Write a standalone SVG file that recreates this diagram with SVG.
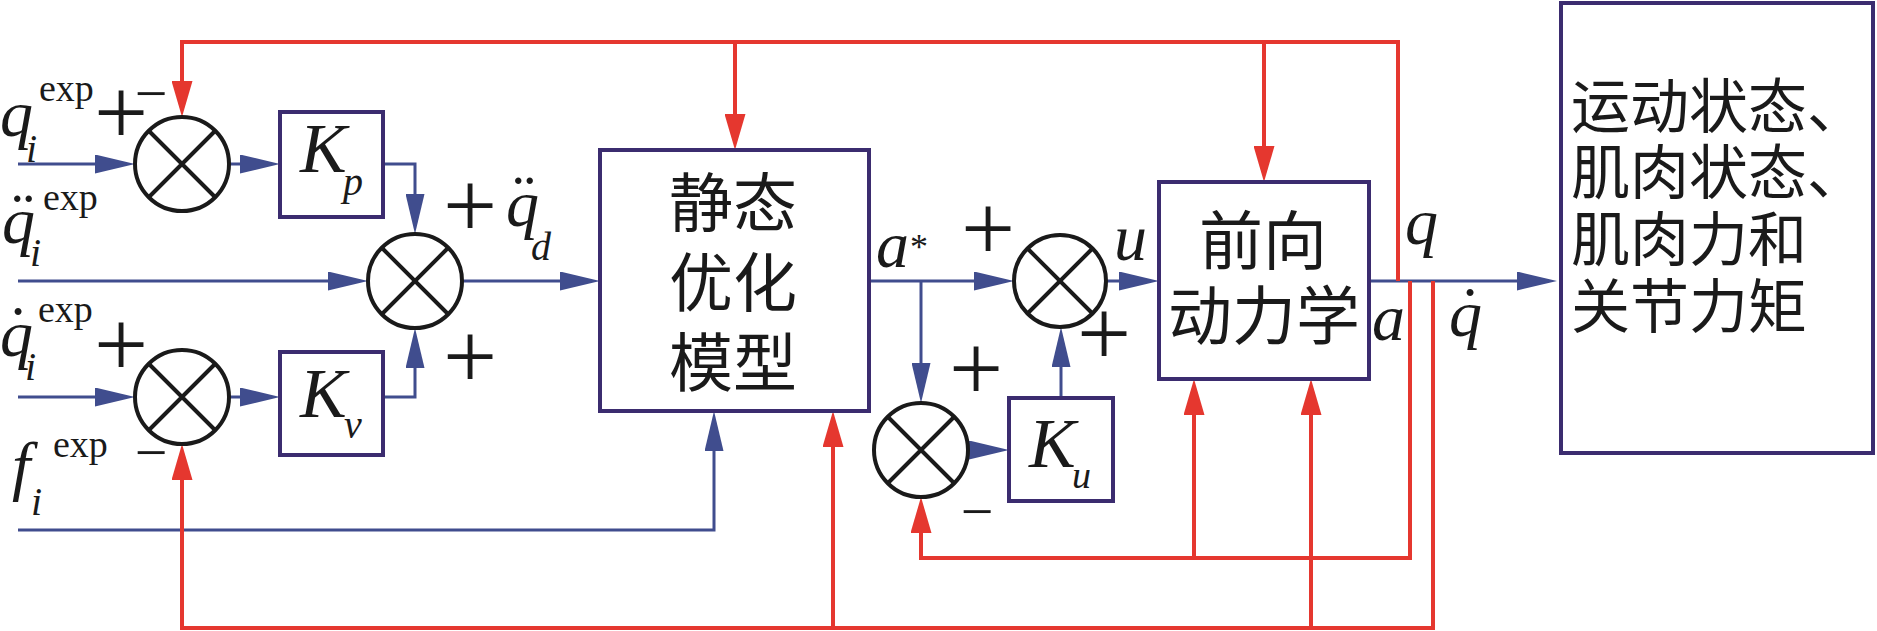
<svg xmlns="http://www.w3.org/2000/svg" width="1877" height="631" viewBox="0 0 1877 631">
<style>
.blk{fill:#fff;stroke:#3b2c6f;stroke-width:4}
.sum{fill:#fff;stroke:#1a1a1a;stroke-width:4}
.x{stroke:#1a1a1a;stroke-width:4}
.b{fill:none;stroke:#404d8e;stroke-width:3}
.r{fill:none;stroke:#e5372f;stroke-width:4}
.it{font-family:"Liberation Serif",serif;font-style:italic;fill:#1a1a1a}
.rm{font-family:"Liberation Serif",serif;fill:#1a1a1a}
.pl{font-family:"Liberation Serif",serif;font-size:96px;fill:#1a1a1a;text-anchor:middle}
.mi{font-family:"Liberation Serif",serif;font-size:58px;fill:#1a1a1a;text-anchor:middle}
.zh{font-family:"Liberation Serif","Noto Sans CJK SC",sans-serif;font-size:64px;fill:#1a1a1a}
.zo{font-family:"Liberation Serif","Noto Sans CJK SC",sans-serif;font-size:59px;fill:#1a1a1a}
.v{font-size:66px}
.s{font-size:40px}
.e{font-size:38px}
</style>
<defs>
<marker id="ab" markerWidth="40" markerHeight="19" refX="32" refY="9.5" orient="auto" markerUnits="userSpaceOnUse"><path d="M0,0 L40,9.5 L0,19 z" fill="#404d8e"/></marker>
<marker id="ar" markerWidth="36" markerHeight="21" refX="28" refY="10.5" orient="auto" markerUnits="userSpaceOnUse"><path d="M0,0 L36,10.5 L0,21 z" fill="#e5372f"/></marker>
</defs>
<g id="connectors">
<path class="b" d="M18,164 H127" marker-end="url(#ab)"/>
<path class="b" d="M229,164 H272" marker-end="url(#ab)"/>
<path class="b" d="M383,164 H415 V226" marker-end="url(#ab)"/>
<path class="b" d="M18,281 H360" marker-end="url(#ab)"/>
<path class="b" d="M18,397 H127" marker-end="url(#ab)"/>
<path class="b" d="M229,397 H272" marker-end="url(#ab)"/>
<path class="b" d="M383,397 H415 V336" marker-end="url(#ab)"/>
<path class="b" d="M18,530 H714 V419" marker-end="url(#ab)"/>
<path class="b" d="M462,281 H592" marker-end="url(#ab)"/>
<path class="b" d="M869,281 H1006" marker-end="url(#ab)"/>
<path class="b" d="M921,281 V395" marker-end="url(#ab)"/>
<path class="b" d="M968,450 H1001" marker-end="url(#ab)"/>
<path class="b" d="M1061,398 V335" marker-end="url(#ab)"/>
<path class="b" d="M1106,281 H1151" marker-end="url(#ab)"/>
<path class="b" d="M1369,281 H1549" marker-end="url(#ab)"/>
<path class="r" d="M1398,281 V42 H182 V109" marker-end="url(#ar)"/>
<path class="r" d="M735,42 V142" marker-end="url(#ar)"/>
<path class="r" d="M1264,42 V174" marker-end="url(#ar)"/>
<path class="r" d="M1410,281 V558 H921 V505" marker-end="url(#ar)"/>
<path class="r" d="M1194,558 V387" marker-end="url(#ar)"/>
<path class="r" d="M1433,281 V628 H182 V452" marker-end="url(#ar)"/>
<path class="r" d="M833,628 V419" marker-end="url(#ar)"/>
<path class="r" d="M1311,628 V387" marker-end="url(#ar)"/>
</g>
<g id="sum1">
<circle class="sum" cx="182" cy="164" r="47"/>
<path class="x" d="M149,131 L215,197 M215,131 L149,197"/>
<text class="pl" x="121" y="144">+</text>
<text class="mi" x="151" y="113">−</text>
</g>
<g id="sum2">
<circle class="sum" cx="415" cy="281" r="47"/>
<path class="x" d="M382,248 L448,314 M448,248 L382,314"/>
<text class="pl" x="470" y="237">+</text>
<text class="pl" x="470" y="388">+</text>
</g>
<g id="sum3">
<circle class="sum" cx="182" cy="397" r="47"/>
<path class="x" d="M149,364 L215,430 M215,364 L149,430"/>
<text class="pl" x="121" y="376">+</text>
<text class="mi" x="151" y="472">−</text>
</g>
<g id="sum4">
<circle class="sum" cx="1060" cy="281" r="46"/>
<path class="x" d="M1027,248 L1093,314 M1093,248 L1027,314"/>
<text class="pl" x="988" y="260">+</text>
<text class="pl" x="1104" y="365">+</text>
</g>
<g id="sum5">
<circle class="sum" cx="921" cy="450" r="47"/>
<path class="x" d="M888,417 L954,483 M954,417 L888,483"/>
<text class="pl" x="976" y="400">+</text>
<text class="mi" x="977" y="531">−</text>
</g>
<g id="Kp">
<rect class="blk" x="280" y="112" width="103" height="105"/>
<text class="it" x="300" y="172" font-size="70">K</text>
<text class="it s" x="343" y="195">p</text>
</g>
<g id="Kv">
<rect class="blk" x="280" y="352" width="103" height="103"/>
<text class="it" x="300" y="417" font-size="70">K</text>
<text class="it s" x="344" y="438">v</text>
</g>
<g id="Ku">
<rect class="blk" x="1009" y="398" width="104" height="103"/>
<text class="it" x="1029" y="467" font-size="70">K</text>
<text class="it" x="1072" y="488" font-size="38">u</text>
</g>
<g id="static">
<rect class="blk" x="600" y="150" width="269" height="261"/>
<text class="zh" x="733" y="226" text-anchor="middle">静态</text>
<text class="zh" x="733" y="306" text-anchor="middle">优化</text>
<text class="zh" x="733" y="386" text-anchor="middle">模型</text>
</g>
<g id="forward">
<rect class="blk" x="1159" y="182" width="210" height="197"/>
<text class="zh" x="1263" y="264" text-anchor="middle">前向</text>
<text class="zh" x="1264" y="339" text-anchor="middle">动力学</text>
</g>
<g id="output">
<rect class="blk" x="1561" y="3" width="312" height="450"/>
<text class="zo" x="1571" y="128">运动状态、</text>
<text class="zo" x="1571" y="194">肌肉状态、</text>
<text class="zo" x="1571" y="261">肌肉力和</text>
<text class="zo" x="1571" y="328">关节力矩</text>
</g>
<g id="labels">
<text class="it v" x="0" y="136">q</text>
<text class="rm e" x="39" y="101">exp</text>
<text class="it s" x="26" y="162">i</text>
<text class="it v" x="2" y="243">q</text>
<text class="rm v" x="12" y="237">¨</text>
<text class="rm e" x="43" y="210">exp</text>
<text class="it s" x="30" y="266">i</text>
<text class="it v" x="0" y="356">q</text>
<text class="rm v" x="7" y="352">˙</text>
<text class="rm e" x="38" y="322">exp</text>
<text class="it s" x="25" y="380">i</text>
<text class="it v" x="12" y="488">f</text>
<text class="rm e" x="53" y="457">exp</text>
<text class="it s" x="31" y="515">i</text>
<text class="it v" x="506" y="226">q</text>
<text class="rm v" x="513" y="219">¨</text>
<text class="it s" x="531" y="260">d</text>
<text class="it v" x="876" y="267">a</text>
<text class="rm" x="910" y="259" font-size="36">*</text>
<text class="it v" x="1114" y="260">u</text>
<text class="it v" x="1405" y="244">q</text>
<text class="it v" x="1372" y="340">a</text>
<text class="it v" x="1449" y="336">q</text>
<text class="rm v" x="1459" y="333">˙</text>
</g>
</svg>
